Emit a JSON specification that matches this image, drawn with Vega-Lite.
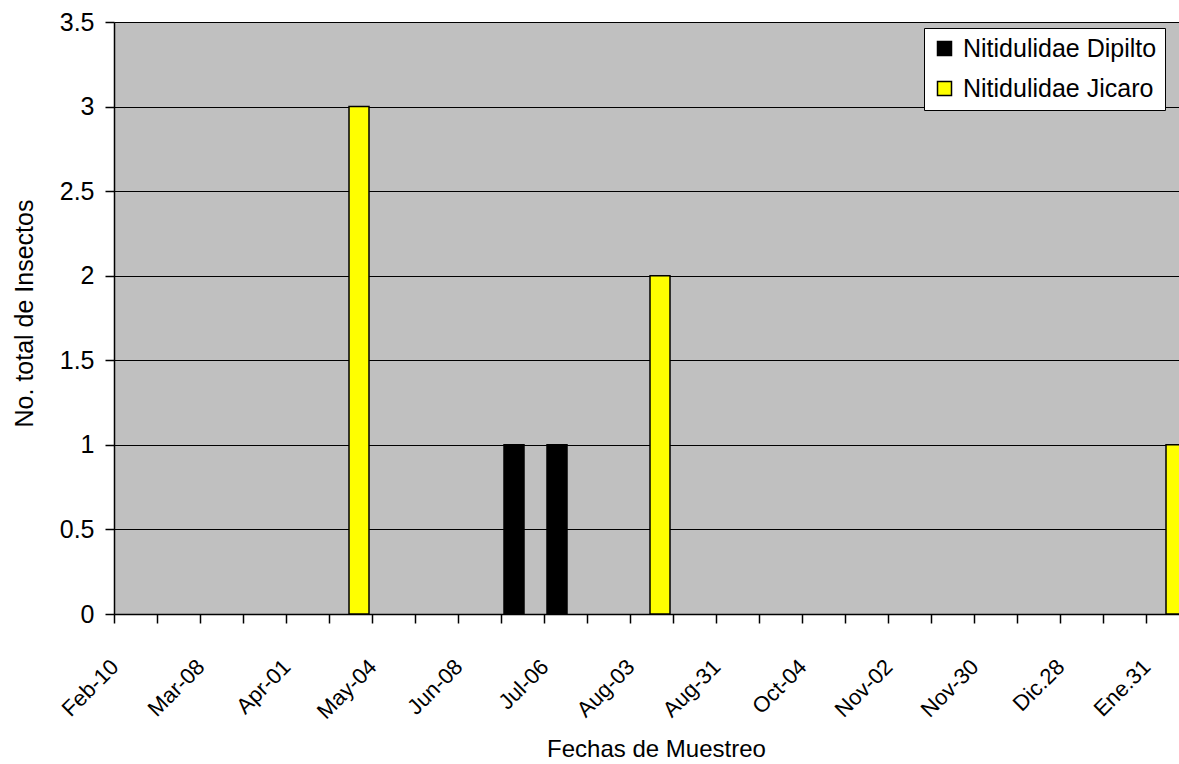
{
  "$schema": "https://vega.github.io/schema/vega-lite/v6.json",
  "autosize": {"type": "none"},
  "padding": {"left": 114, "top": 22, "right": 0, "bottom": 150},
  "width": 1065,
  "height": 592,
  "background": "#FFFFFF",
  "config": {
    "font": "Liberation Sans",
    "view": {"fill": "#C0C0C0", "stroke": null}
  },
  "data": {
    "values": [
      {"muestreo": 1, "serie": "Nitidulidae Dipilto", "insectos": 0},
      {"muestreo": 1, "serie": "Nitidulidae Jicaro", "insectos": 0},
      {"muestreo": 2, "serie": "Nitidulidae Dipilto", "insectos": 0},
      {"muestreo": 2, "serie": "Nitidulidae Jicaro", "insectos": 0},
      {"muestreo": 3, "serie": "Nitidulidae Dipilto", "insectos": 0},
      {"muestreo": 3, "serie": "Nitidulidae Jicaro", "insectos": 0},
      {"muestreo": 4, "serie": "Nitidulidae Dipilto", "insectos": 0},
      {"muestreo": 4, "serie": "Nitidulidae Jicaro", "insectos": 0},
      {"muestreo": 5, "serie": "Nitidulidae Dipilto", "insectos": 0},
      {"muestreo": 5, "serie": "Nitidulidae Jicaro", "insectos": 0},
      {"muestreo": 6, "serie": "Nitidulidae Dipilto", "insectos": 0},
      {"muestreo": 6, "serie": "Nitidulidae Jicaro", "insectos": 3},
      {"muestreo": 7, "serie": "Nitidulidae Dipilto", "insectos": 0},
      {"muestreo": 7, "serie": "Nitidulidae Jicaro", "insectos": 0},
      {"muestreo": 8, "serie": "Nitidulidae Dipilto", "insectos": 0},
      {"muestreo": 8, "serie": "Nitidulidae Jicaro", "insectos": 0},
      {"muestreo": 9, "serie": "Nitidulidae Dipilto", "insectos": 0},
      {"muestreo": 9, "serie": "Nitidulidae Jicaro", "insectos": 0},
      {"muestreo": 10, "serie": "Nitidulidae Dipilto", "insectos": 1},
      {"muestreo": 10, "serie": "Nitidulidae Jicaro", "insectos": 0},
      {"muestreo": 11, "serie": "Nitidulidae Dipilto", "insectos": 1},
      {"muestreo": 11, "serie": "Nitidulidae Jicaro", "insectos": 0},
      {"muestreo": 12, "serie": "Nitidulidae Dipilto", "insectos": 0},
      {"muestreo": 12, "serie": "Nitidulidae Jicaro", "insectos": 0},
      {"muestreo": 13, "serie": "Nitidulidae Dipilto", "insectos": 0},
      {"muestreo": 13, "serie": "Nitidulidae Jicaro", "insectos": 2},
      {"muestreo": 14, "serie": "Nitidulidae Dipilto", "insectos": 0},
      {"muestreo": 14, "serie": "Nitidulidae Jicaro", "insectos": 0},
      {"muestreo": 15, "serie": "Nitidulidae Dipilto", "insectos": 0},
      {"muestreo": 15, "serie": "Nitidulidae Jicaro", "insectos": 0},
      {"muestreo": 16, "serie": "Nitidulidae Dipilto", "insectos": 0},
      {"muestreo": 16, "serie": "Nitidulidae Jicaro", "insectos": 0},
      {"muestreo": 17, "serie": "Nitidulidae Dipilto", "insectos": 0},
      {"muestreo": 17, "serie": "Nitidulidae Jicaro", "insectos": 0},
      {"muestreo": 18, "serie": "Nitidulidae Dipilto", "insectos": 0},
      {"muestreo": 18, "serie": "Nitidulidae Jicaro", "insectos": 0},
      {"muestreo": 19, "serie": "Nitidulidae Dipilto", "insectos": 0},
      {"muestreo": 19, "serie": "Nitidulidae Jicaro", "insectos": 0},
      {"muestreo": 20, "serie": "Nitidulidae Dipilto", "insectos": 0},
      {"muestreo": 20, "serie": "Nitidulidae Jicaro", "insectos": 0},
      {"muestreo": 21, "serie": "Nitidulidae Dipilto", "insectos": 0},
      {"muestreo": 21, "serie": "Nitidulidae Jicaro", "insectos": 0},
      {"muestreo": 22, "serie": "Nitidulidae Dipilto", "insectos": 0},
      {"muestreo": 22, "serie": "Nitidulidae Jicaro", "insectos": 0},
      {"muestreo": 23, "serie": "Nitidulidae Dipilto", "insectos": 0},
      {"muestreo": 23, "serie": "Nitidulidae Jicaro", "insectos": 0},
      {"muestreo": 24, "serie": "Nitidulidae Dipilto", "insectos": 0},
      {"muestreo": 24, "serie": "Nitidulidae Jicaro", "insectos": 0},
      {"muestreo": 25, "serie": "Nitidulidae Dipilto", "insectos": 0},
      {"muestreo": 25, "serie": "Nitidulidae Jicaro", "insectos": 1}
    ]
  },
  "encoding": {
    "x": {
      "field": "muestreo",
      "type": "ordinal",
      "sort": "ascending",
      "scale": {"type": "band", "range": [0, 1075], "paddingInner": 0, "paddingOuter": 0},
      "axis": {
        "bandPosition": 0,
        "domainColor": "#000000",
        "domainWidth": 1.5,
        "ticks": true,
        "tickColor": "#000000",
        "tickWidth": 1.5,
        "tickSize": 9,
        "grid": false,
        "labelAngle": -45,
        "labelAlign": "right",
        "labelBaseline": "middle",
        "labelPadding": 40,
        "labelOffset": -20.5,
        "labelFontSize": 22,
        "labelColor": "#000000",
        "labelOverlap": false,
        "labelFlush": false,
        "labelBound": false,
        "labelExpr": "datum.value % 2 == 1 ? ['Feb-10','Mar-08','Apr-01','May-04','Jun-08','Jul-06','Aug-03','Aug-31','Oct-04','Nov-02','Nov-30','Dic.28','Ene.31'][(datum.value - 1) / 2] : ''",
        "title": "Fechas de Muestreo",
        "titleFontSize": 24,
        "titleFontWeight": "normal",
        "titleColor": "#000000",
        "titleX": 542,
        "titleY": 142,
        "titleAlign": "center",
        "titleBaseline": "alphabetic"
      }
    },
    "y": {
      "field": "insectos",
      "type": "quantitative",
      "scale": {"domain": [0, 3.5], "nice": false},
      "axis": {
        "values": [0, 0.5, 1, 1.5, 2, 2.5, 3, 3.5],
        "format": "~g",
        "domainColor": "#000000",
        "domainWidth": 1.5,
        "tickColor": "#000000",
        "tickWidth": 1.5,
        "tickSize": 9,
        "grid": true,
        "gridColor": "#000000",
        "gridWidth": 1.2,
        "labelPadding": 11,
        "labelFontSize": 25,
        "labelColor": "#000000",
        "title": "No. total de Insectos",
        "titleFontSize": 25,
        "titleFontWeight": "normal",
        "titleColor": "#000000",
        "titleAngle": -90,
        "titleX": -82,
        "titleY": 291,
        "titleAlign": "center",
        "titleBaseline": "alphabetic"
      }
    },
    "color": {
      "field": "serie",
      "type": "nominal",
      "scale": {
        "domain": ["Nitidulidae Dipilto", "Nitidulidae Jicaro"],
        "range": ["#000000", "#FFFF00"]
      },
      "legend": {
        "title": null,
        "orient": "none",
        "legendX": 810,
        "legendY": 6,
        "fillColor": "#FFFFFF",
        "strokeColor": "#000000",
        "padding": 8,
        "symbolType": "square",
        "symbolSize": 196,
        "symbolStrokeColor": "#000000",
        "symbolStrokeWidth": 1.5,
        "symbolOffset": 0,
        "labelFontSize": 25,
        "labelColor": "#000000",
        "labelLimit": 0,
        "labelOffset": 6,
        "rowPadding": 14
      }
    },
    "strokeOpacity": {
      "condition": {"test": "datum.insectos == 0", "value": 0},
      "value": 1
    }
  },
  "layer": [
    {
      "transform": [{"filter": "datum.serie == 'Nitidulidae Dipilto'"}],
      "mark": {"type": "bar", "width": 20, "xOffset": -8.5, "stroke": "#000000", "strokeWidth": 1.5}
    },
    {
      "transform": [{"filter": "datum.serie == 'Nitidulidae Jicaro'"}],
      "mark": {"type": "bar", "width": 20, "xOffset": 8.5, "stroke": "#000000", "strokeWidth": 1.5}
    }
  ]
}
